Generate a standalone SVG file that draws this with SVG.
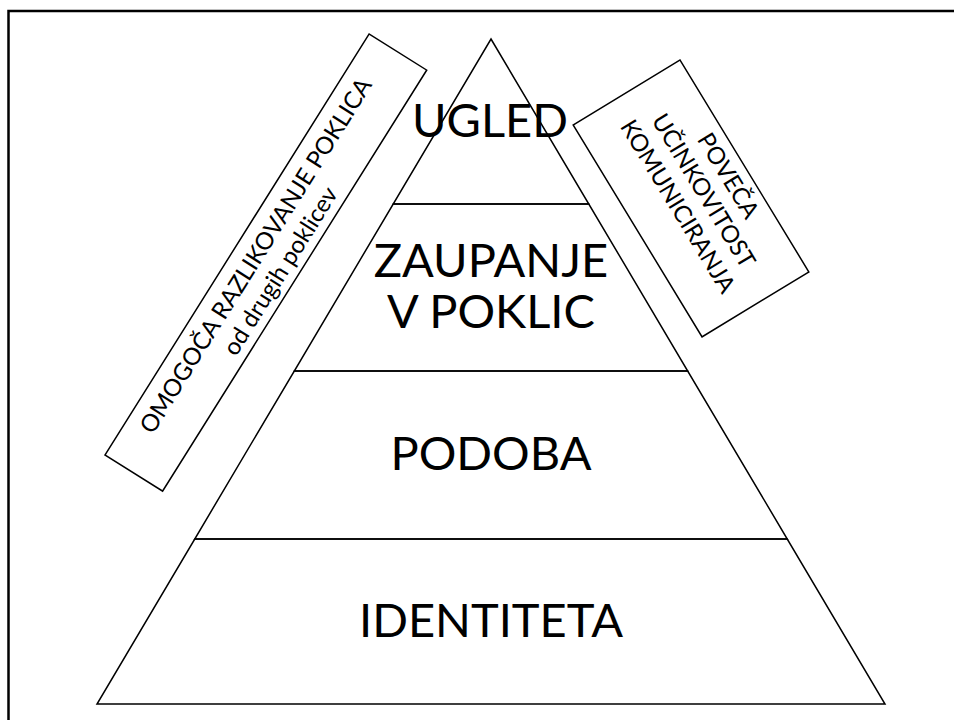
<svg xmlns="http://www.w3.org/2000/svg" width="954" height="720" viewBox="0 0 954 720">
<style>
.ln{fill:none;stroke:#000;stroke-width:1.5;stroke-linejoin:miter}
.big{font-family:Lato,"Open Sans","Liberation Sans",sans-serif;font-size:47px;fill:#000;text-anchor:middle}
.sm{font-family:Lato,"Open Sans","Liberation Sans",sans-serif;font-size:24px;fill:#000;text-anchor:middle}
</style>
<rect width="954" height="720" fill="#fff"/>
<g id="frame"><path d="M8.5,720 V11 H954" fill="none" stroke="#000" stroke-width="2.5"/></g>
<g id="layer-ugled"><polygon class="ln" points="491,39 588.8,204 393.2,204"/><text class="big" x="490" y="137">UGLED</text></g>
<g id="layer-zaupanje"><polygon class="ln" points="393.2,204 588.8,204 687.7,371 294.3,371"/><text class="big" x="491" y="277">ZAUPANJE</text><text class="big" x="491" y="328">V POKLIC</text></g>
<g id="layer-podoba"><polygon class="ln" points="294.3,371 687.7,371 787.25,539 194.75,539"/><text class="big" x="491" y="470">PODOBA</text></g>
<g id="layer-identiteta"><polygon class="ln" points="194.75,539 787.25,539 885,704 97,704"/><text class="big" x="491" y="637">IDENTITETA</text></g>
<g id="note-left" transform="translate(105,455) rotate(-57.9)"><rect class="ln" x="0" y="0" width="497" height="68"/><text class="sm" x="249" y="30">OMOGOČA RAZLIKOVANJE POKLICA</text><text class="sm" x="249" y="59">od drugih poklicev</text></g>
<g id="note-right" transform="translate(680,60) rotate(58.7)"><rect class="ln" x="0" y="0" width="248" height="125"/><text class="sm" x="124" y="27">POVEČA</text><text class="sm" x="124" y="56">UČINKOVITOST</text><text class="sm" x="124" y="86">KOMUNICIRANJA</text></g>
<g id="connectors"></g>
</svg>
